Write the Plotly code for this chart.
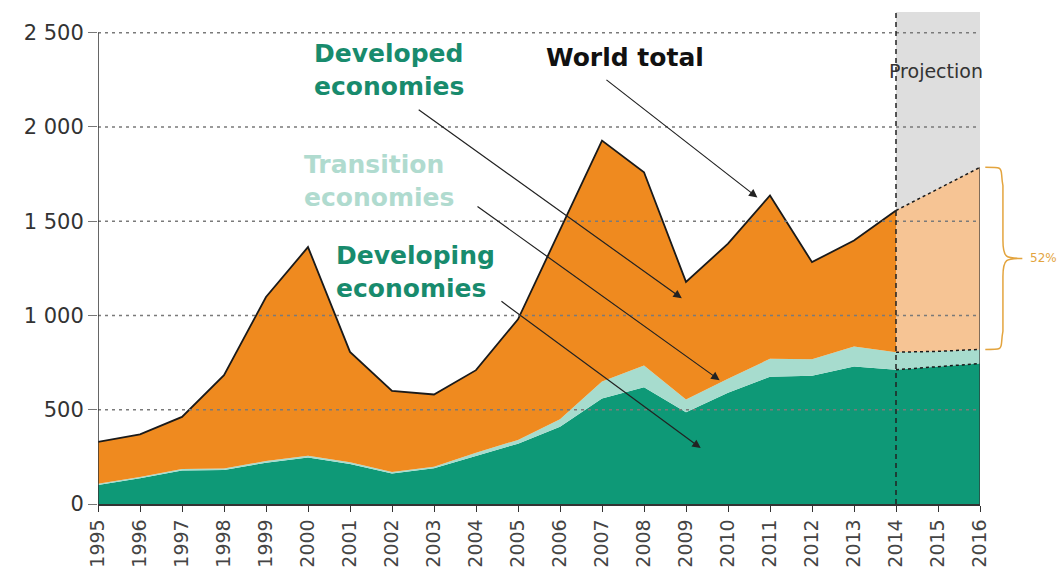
import plotly.graph_objects as go

years = list(range(1995, 2017))
developing = [101, 136, 178, 180, 219, 247, 212, 162, 189, 255, 320, 410, 560, 620, 487, 590, 675, 680, 730, 712, 728, 745]
transition = [7, 7, 8, 8, 9, 9, 9, 8, 9, 17, 20, 40, 90, 115, 68, 75, 95, 88, 105, 93, 82, 75]
developed = [222, 226, 276, 495, 870, 1107, 586, 430, 383, 438, 640, 1000, 1278, 1025, 623, 716, 867, 515, 563, 752, 862, 966]
world = [330, 369, 462, 683, 1098, 1363, 807, 600, 581, 710, 980, 1450, 1928, 1760, 1178, 1381, 1637, 1283, 1398, 1557, 1672, 1786]
ytick_vals = [0, 500, 1000, 1500, 2000, 2500]
ytick_text = ["0", "500", "1 000", "1 500", "2 000", "2 500"]
proj_start = 2014
share_label = "52%"

ORANGE = "#EF8A1F"
LORANGE = "#F6C494"
DGREEN = "#0E9977"
LGREEN = "#A7DCCE"
TEAL = "#188B6D"
LTEAL_TXT = "#B0DBCF"
FONT = "DejaVu Sans"

i0 = years.index(proj_start)
hx, px_ = years[:i0 + 1], years[i0:]

fig = go.Figure()
for name, vals, col in [("Developing", developing, DGREEN), ("Transition", transition, LGREEN), ("Developed", developed, ORANGE)]:
    fig.add_trace(go.Scatter(x=hx, y=vals[:i0 + 1], stackgroup="hist", mode="lines",
                             line=dict(width=0), fillcolor=col, name=name, showlegend=False))
for name, vals, col in [("Developing", developing, DGREEN), ("Transition", transition, LGREEN), ("Developed", developed, LORANGE)]:
    fig.add_trace(go.Scatter(x=px_, y=vals[i0:], stackgroup="proj", mode="lines",
                             line=dict(width=0), fillcolor=col, name=name, showlegend=False))

fig.add_trace(go.Scatter(x=hx, y=world[:i0 + 1], mode="lines", line=dict(color="#1a1a1a", width=1.8), showlegend=False))
fig.add_trace(go.Scatter(x=px_, y=world[i0:], mode="lines", line=dict(color="#1a1a1a", width=1.5, dash="dot"), showlegend=False))
dev_top = [d for d in developing[i0:]]
tr_top = [d + t for d, t in zip(developing[i0:], transition[i0:])]
fig.add_trace(go.Scatter(x=px_, y=dev_top, mode="lines", line=dict(color="#1a1a1a", width=1.5, dash="dot"), showlegend=False))
fig.add_trace(go.Scatter(x=px_, y=tr_top, mode="lines", line=dict(color="#1a1a1a", width=1.5, dash="dot"), showlegend=False))

shapes = []
shapes.append(dict(type="rect", xref="x", yref="paper", x0=proj_start, x1=years[-1], y0=0, y1=1,
                   fillcolor="#DEDEDE", line=dict(width=0), layer="below"))
for v in ytick_vals[1:]:
    shapes.append(dict(type="line", xref="paper", yref="y", x0=0, x1=1, y0=v, y1=v,
                       line=dict(color="#7a7a7a", width=1.3, dash="3px,4px"), layer="above"))
shapes.append(dict(type="line", xref="x", yref="paper", x0=proj_start, x1=proj_start, y0=0, y1=1,
                   line=dict(color="#222", width=1.5, dash="5px,4px"), layer="above"))
shapes.append(dict(type="line", xref="x", yref="y", x0=years[0], x1=years[0], y0=0, y1=ytick_vals[-1],
                   line=dict(color="#333", width=1.5), layer="above"))
shapes.append(dict(type="line", xref="x", yref="y", x0=years[-1], x1=years[-1], y0=0, y1=world[-1],
                   line=dict(color="#333", width=1.2), layer="above"))
top, bot = world[-1], tr_top[-1]
mid = (top + bot) / 2
xa, xb, xc = 1.006, 1.030, 1.048
path = (f"M {xa},{top} C {xb},{top} {xb-0.008},{top} {xb-0.004},{top-(top-mid)*0.2} "
        f"L {xb-0.004},{mid+(top-mid)*0.2} C {xb-0.004},{mid} {xb},{mid} {xc},{mid} "
        f"C {xb},{mid} {xb-0.004},{mid} {xb-0.004},{mid-(mid-bot)*0.2} "
        f"L {xb-0.004},{bot+(mid-bot)*0.2} C {xb-0.008},{bot} {xb},{bot} {xa},{bot}")
shapes.append(dict(type="path", xref="paper", yref="y", path=path,
                   line=dict(color="#E3A43E", width=1.5)))

annotations = []
def arrow(xh, yh, xt, yt):
    annotations.append(dict(x=xh, y=yh, ax=xt, ay=yt, xref="x", yref="y", axref="x", ayref="y",
                            text="", showarrow=True, arrowhead=2, arrowsize=1.4, arrowwidth=1.2,
                            arrowcolor="#222"))
arrow(2010.7, 1626, 2007.07, 2256)
arrow(2008.9, 1091, 2002.6, 2097)
arrow(2009.8, 657, 2004.0, 1584)
arrow(2009.35, 297, 2004.57, 1081)

def label(x, y, text, color, size=25, bold=True, xanchor="left"):
    annotations.append(dict(x=x, y=y, xref="x", yref="y", text=(f"<b>{text}</b>" if bold else text),
                            showarrow=False, xanchor=xanchor, yanchor="middle", align="left",
                            font=dict(family=FONT, size=size, color=color)))
label(2007.55, 2368, "World total", "#111", xanchor="center")
label(2000.1, 2300, "Developed<br>economies", TEAL)
label(1999.85, 1716, "Transition<br>economies", LTEAL_TXT)
label(2000.62, 1229, "Developing<br>economies", TEAL)
label(2014.95, 2298, "Projection", "#333", size=19, bold=False, xanchor="center")
annotations.append(dict(x=1.054, y=mid, xref="paper", yref="y", text=share_label, showarrow=False,
                        xanchor="left", yanchor="middle", font=dict(family=FONT, size=12, color="#E3A43E")))

fig.update_layout(
    width=1064, height=583, autosize=False,
    margin=dict(l=98, r=84, t=12, b=79, pad=0),
    plot_bgcolor="white", paper_bgcolor="white",
    shapes=shapes, annotations=annotations, showlegend=False,
    xaxis=dict(range=[years[0], years[-1]], tickmode="array", tickvals=years, ticktext=[str(y) for y in years],
               tickangle=-90, ticks="outside", ticklen=6, tickcolor="#333", showgrid=False, zeroline=False,
               showline=True, linecolor="#333", linewidth=1.5,
               tickfont=dict(family=FONT, size=19, color="#444")),
    yaxis=dict(range=[0, 2610], tickmode="array", tickvals=ytick_vals, ticktext=ytick_text,
               ticks="outside", ticklen=9, tickcolor="#777", showgrid=False, zeroline=False, showline=False,
               tickfont=dict(family=FONT, size=21, color="#333")),
)

fig.write_html("out.html", config={"displayModeBar": False}, post_script="document.body.style.margin='0';")
